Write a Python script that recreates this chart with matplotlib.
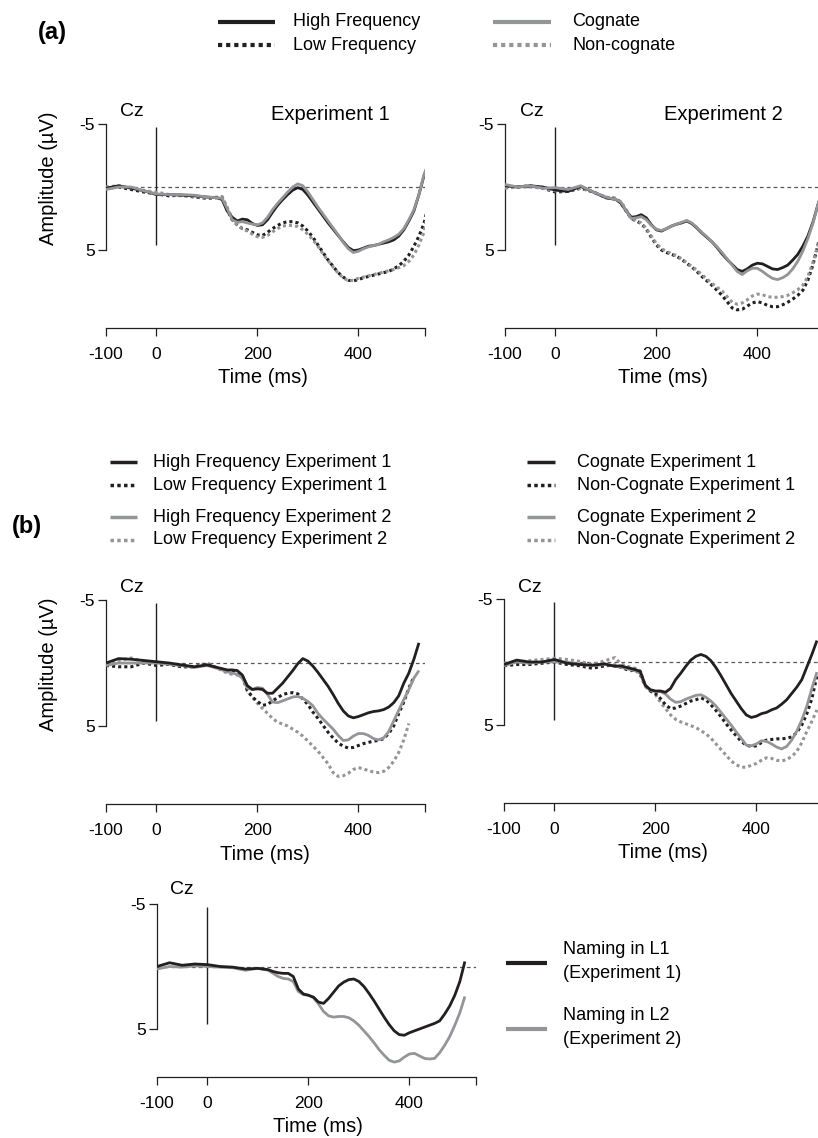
import matplotlib
matplotlib.use("Agg")
import matplotlib.pyplot as plt
from matplotlib.lines import Line2D

plt.rcParams['font.family'] = ['Liberation Sans', 'DejaVu Sans']

NA = float('nan')

# ---------------- data (µV, positive plotted downward) ----------------
T_A = [-100, -75, -50, -25, 0, 25, 50, 75, 100, 120, 130, 140, 150, 160, 170, 180, 190,
       200, 210, 220, 230, 240, 250, 260, 270, 280, 290, 300, 310, 320, 330, 340, 350,
       360, 370, 380, 390, 400, 410, 420, 430, 440, 450, 460, 470, 480, 490, 500, 510,
       520, 530, 540]
T_B = [-100, -75, -50, -25, 0, 25, 50, 75, 100, 120, 130, 140, 150, 160, 170, 180, 190,
       200, 210, 220, 230, 240, 250, 260, 270, 280, 290, 300, 310, 320, 330, 340, 350,
       360, 370, 380, 390, 400, 410, 420, 430, 440, 450, 460, 470, 480, 490, 500, 510,
       520]
T_C = [-100, -75, -50, -25, 0, 25, 50, 75, 100, 120, 130, 140, 150, 160, 170, 180, 190,
       200, 210, 220, 230, 240, 250, 260, 270, 280, 290, 300, 310, 320, 330, 340, 350,
       360, 370, 380, 390, 400, 410, 420, 430, 440, 450, 460, 470, 480, 490, 500, 510]

# (a) Experiment 1
a1_high = [0.1, -0.1, 0.1, 0.3, 0.6, 0.6, 0.65, 0.7, 0.8, 0.85,
           1.0, 1.9, 2.4, 2.7, 2.55, 2.6, 2.9, 3.05, 3.0, 2.6, 2.0, 1.45, 1.0, 0.6, 0.25,
           0.05, 0.2, 0.65, 1.2, 1.75, 2.3, 2.85, 3.35, 3.85, 4.35, 4.8, 5.05, 5.0, 4.85,
           4.7, 4.65, 4.55, 4.45, 4.35, 4.2, 3.9, 3.4, 2.7, 1.9, 0.6, -0.9, -1.9]
a1_cog = [0.2, 0.0, 0.0, 0.3, 0.55, 0.6, 0.6, 0.65, 0.8, 0.85,
          0.9, 1.7, 2.6, 2.8, 2.75, 2.85, 2.95, 3.0, 2.85, 2.4, 1.8, 1.3, 0.85, 0.4, 0.0,
          -0.25, -0.1, 0.4, 1.0, 1.6, 2.15, 2.7, 3.25, 3.8, 4.4, 4.9, 5.2, 5.1, 4.9, 4.75,
          4.65, 4.55, 4.35, 4.2, 4.0, 3.75, 3.3, 2.6, 1.8, 0.6, -1.0, -2.0]
a1_low = [0.1, 0.0, 0.2, 0.4, 0.55, 0.7, 0.65, 0.8, 0.9, 0.85,
          0.8, 1.8, 2.6, 3.0, 3.3, 3.4, 3.6, 3.8, 3.85, 3.6, 3.3, 3.05, 2.85, 2.75, 2.75,
          2.85, 3.1, 3.5, 4.0, 4.6, 5.2, 5.8, 6.3, 6.8, 7.15, 7.4, 7.45, 7.35, 7.2, 7.1,
          7.0, 6.9, 6.8, 6.7, 6.5, 6.25, 5.9, 5.4, 4.7, 3.9, 2.9, 1.2]
a1_noncog = [0.0, -0.1, 0.1, 0.3, 0.4, 0.6, 0.7, 0.75, 0.85, 0.8,
             0.75, 1.6, 2.5, 3.0, 3.3, 3.5, 3.75, 3.95, 4.0, 3.85, 3.55, 3.3, 3.1, 3.05,
             3.05, 3.15, 3.4, 3.75, 4.2, 4.7, 5.3, 5.85, 6.35, 6.85, 7.2, 7.45, 7.4, 7.25,
             7.15, 7.05, 6.95, 6.85, 6.75, 6.65, 6.55, 6.4, 6.25, 5.9, 5.4, 4.6, 3.6, 1.4]

# (a) Experiment 2
a2_high = [-0.1, 0.0, -0.1, 0.0, 0.25, 0.35, -0.05, 0.4, 0.85, 1.0,
           1.3, 1.9, 2.4, 2.35, 2.2, 2.45, 3.0, 3.4, 3.5, 3.3, 3.1, 2.95, 2.85, 2.7, 2.9,
           3.25, 3.65, 4.0, 4.35, 4.8, 5.3, 5.75, 6.15, 6.55, 6.7, 6.5, 6.2, 6.05, 6.1,
           6.3, 6.5, 6.55, 6.4, 6.2, 5.8, 5.35, 4.7, 3.9, 2.8, 1.4, 0.0, -1.4]
a2_cog = [-0.2, 0.0, -0.1, 0.1, 0.05, 0.2, -0.1, 0.4, 0.8, 1.0,
          1.2, 1.9, 2.5, 2.45, 2.35, 2.6, 3.05, 3.35, 3.45, 3.3, 3.1, 2.95, 2.8, 2.65,
          2.85, 3.2, 3.6, 3.95, 4.35, 4.75, 5.2, 5.7, 6.2, 6.7, 6.95, 6.65, 6.45, 6.45,
          6.7, 7.0, 7.25, 7.35, 7.2, 6.95, 6.5, 5.9, 5.1, 4.1, 2.9, 1.4, 0.0, -1.4]
a2_low = [0.0, 0.0, -0.1, 0.1, 0.4, 0.35, 0.1, 0.4, 0.85, 0.9,
          1.3, 1.9, 2.5, 2.7, 2.9, 3.35, 4.0, 4.6, 5.0, 5.2, 5.35, 5.5, 5.75, 6.05, 6.35,
          6.7, 7.1, 7.45, 7.8, 8.2, 8.6, 9.1, 9.6, 9.75, 9.7, 9.45, 9.2, 9.1, 9.2, 9.4,
          9.5, 9.5, 9.35, 9.15, 8.9, 8.6, 8.2, 7.4, 6.2, 4.6, 3.0, 1.5]
a2_noncog = [0.1, 0.0, 0.0, 0.1, 0.3, 0.3, 0.1, 0.4, 0.8, 0.9,
             1.2, 1.8, 2.45, 2.7, 2.85, 3.3, 3.9, 4.5, 4.9, 5.1, 5.3, 5.45, 5.7, 6.0, 6.3,
             6.6, 6.95, 7.3, 7.65, 7.95, 8.25, 8.7, 9.15, 9.3, 9.2, 8.95, 8.65, 8.5, 8.55,
             8.7, 8.75, 8.75, 8.7, 8.6, 8.4, 8.15, 7.8, 7.1, 6.0, 4.6, 3.0, 1.5]

# (b) frequency comparison across experiments
b1_high_e1 = [0.0, -0.35, -0.3, -0.2, -0.1, 0.0, 0.15, 0.3, 0.15, 0.35,
              0.45, 0.55, 0.55, 0.6, 0.95, 1.8, 2.1, 2.05, 2.1, 2.4, 2.4, 2.0, 1.6, 1.1,
              0.6, 0.05, -0.35, -0.15, 0.25, 0.75, 1.3, 1.85, 2.5, 3.2, 3.8, 4.2, 4.35,
              4.25, 4.1, 3.95, 3.85, 3.8, 3.7, 3.5, 3.15, 2.6, 1.6, 0.8, -0.3, -1.6]
b1_low_e1 = [0.2, 0.3, 0.3, 0.0, 0.2, 0.1, 0.3, 0.3, 0.1, 0.4,
             0.5, 0.6, 0.65, 0.8, 1.0, 2.2, 2.7, 3.05, 3.35, 3.3, 3.0, 2.75, 2.5, 2.4,
             2.35, 2.45, 2.85, 3.3, 3.9, 4.4, 4.95, 5.5, 5.95, 6.35, 6.6, 6.75, 6.7, 6.55,
             6.4, 6.3, 6.2, 6.15, 6.0, 5.6, 5.0, 4.0, 3.1, 2.0, 1.1, NA]
b1_high_e2 = [0.2, 0.0, 0.0, 0.0, 0.0, 0.1, 0.2, 0.35, 0.2, 0.4,
              0.55, 0.7, 0.8, 0.9, 1.2, 2.0, 2.1, 1.95, 2.0, 2.5, 3.1, 3.15, 3.0, 2.85,
              2.7, 2.65, 2.8, 3.05, 3.4, 4.0, 4.45, 4.85, 5.25, 5.75, 6.15, 6.1, 5.8, 5.6,
              5.6, 5.75, 6.0, 6.1, 5.95, 5.45, 4.6, 3.75, 2.9, 2.1, 1.2, 0.6]
b1_low_e2 = [0.1, -0.2, -0.4, -0.1, 0.0, 0.1, 0.3, 0.3, 0.0, 0.4,
             0.6, 0.8, 0.9, 0.95, 1.1, 2.1, 2.7, 3.2, 3.6, 4.0, 4.4, 4.7, 4.85, 5.0, 5.25,
             5.5, 5.8, 6.2, 6.6, 7.0, 7.5, 8.0, 8.7, 9.0, 8.95, 8.75, 8.45, 8.3, 8.4, 8.55,
             8.65, 8.7, 8.6, 8.3, 7.8, 7.1, 6.1, 4.8, NA, NA]

# (b) cognate comparison across experiments
b2_cog_e1 = [0.2, -0.15, 0.0, 0.0, -0.2, 0.1, 0.2, 0.25, 0.15, 0.35,
             0.3, 0.4, 0.5, 0.6, 0.75, 1.85, 2.2, 2.3, 2.3, 2.4, 2.1, 1.4, 0.9, 0.35,
             -0.15, -0.45, -0.6, -0.45, -0.1, 0.45, 1.1, 1.8, 2.5, 3.1, 3.7, 4.2, 4.4, 4.3,
             4.1, 4.0, 3.8, 3.65, 3.35, 3.0, 2.5, 2.0, 1.4, 0.4, -0.6, -1.7]
b2_noncog_e1 = [0.3, 0.2, 0.2, 0.1, 0.0, 0.2, 0.3, 0.5, 0.3, 0.25,
                0.4, 0.55, 0.7, 0.6, 1.0, 1.9, 2.3, 2.5, 2.9, 3.4, 3.7, 3.65, 3.5, 3.3,
                3.1, 3.0, 2.85, 3.0, 3.4, 3.85, 4.35, 4.9, 5.4, 5.85, 6.3, 6.6, 6.7, 6.65,
                6.4, 6.2, 6.15, 6.1, 6.1, 6.05, 5.95, 5.6, 5.0, 4.1, 2.9, 1.1]
b2_cog_e2 = [0.3, 0.0, 0.1, 0.0, 0.0, 0.0, 0.2, 0.3, 0.2, 0.3,
             0.4, 0.5, 0.6, 0.7, 0.9, 1.9, 2.25, 2.35, 2.35, 2.55, 2.95, 3.2, 3.15, 2.95,
             2.8, 2.65, 2.6, 2.8, 3.1, 3.5, 4.0, 4.5, 5.0, 5.55, 6.05, 6.6, 6.65, 6.5,
             6.25, 6.3, 6.5, 6.75, 6.9, 6.7, 6.2, 5.5, 4.6, 3.5, 2.1, 0.8]
b2_noncog_e2 = [0.1, 0.0, -0.1, -0.2, -0.3, -0.2, -0.05, 0.2, -0.1, -0.35,
                0.1, 0.3, 0.4, 0.5, 0.7, 1.9, 2.3, 2.6, 3.2, 3.7, 4.2, 4.55, 4.75, 4.9,
                5.05, 5.2, 5.45, 5.7, 6.05, 6.5, 6.95, 7.4, 7.85, 8.15, 8.35, 8.35, 8.2,
                8.05, 7.8, 7.6, 7.65, 7.8, 7.85, 7.75, 7.5, 7.1, 6.4, 5.5, 4.7, 3.8]

# naming in L1 vs L2
c_l1 = [0.0, -0.3, -0.1, -0.2, -0.15, 0.0, 0.05, 0.2, 0.15, 0.25,
        0.4, 0.5, 0.55, 0.55, 0.8, 1.8, 2.2, 2.3, 2.45, 2.85, 2.95, 2.55, 2.05, 1.55, 1.25,
        1.05, 1.0, 1.2, 1.6, 2.15, 2.75, 3.4, 4.05, 4.65, 5.15, 5.45, 5.5, 5.3, 5.15, 5.0,
        4.85, 4.7, 4.55, 4.35, 3.8, 3.15, 2.3, 1.2, -0.4]
c_l2 = [0.2, 0.0, 0.05, -0.05, 0.0, 0.05, 0.1, 0.3, 0.15, 0.3,
        0.55, 0.8, 0.95, 1.0, 1.2, 2.0, 2.25, 2.3, 2.5, 3.0, 3.6, 3.95, 4.05, 4.0, 4.0, 4.1,
        4.35, 4.7, 5.15, 5.6, 6.1, 6.65, 7.1, 7.5, 7.65, 7.55, 7.25, 7.0, 6.95, 7.15, 7.35,
        7.4, 7.35, 6.9, 6.3, 5.6, 4.7, 3.7, 2.4]

x_ticks = [-100, 0, 200, 400]
x_tick_labels = ['-100', '0', '200', '400']
y_ticks = [-5, 5]
y_tick_labels = ['-5', '5']

# ---------------- styling ----------------
W, H = 818, 1138
BLACK = '#231f20'
GRAY = '#939598'
SOLID = dict(lw=2.0, solid_capstyle='butt')
DOT = dict(lw=2.2, linestyle=(0, (1, 1)), dash_capstyle='butt')

fig = plt.figure(figsize=(W / 100, H / 100), dpi=100)


def fx(px):
    return px / W


def fy(py):
    return 1 - py / H


XMIN, XMAX = -100, 532
PX_PER_MS = 319 / (XMAX - XMIN)


def make_axes(left_px, y_m5, y_p5, y_axis):
    s = (y_p5 - y_m5) / 10.0
    ybot = 5 + (y_axis - y_p5) / s
    ytop = -5.3
    top_px = y_m5 - 0.3 * s
    width_px = (XMAX - XMIN) * PX_PER_MS
    ax = fig.add_axes([fx(left_px), fy(y_axis), width_px / W, (y_axis - top_px) / H])
    ax.set_xlim(XMIN, XMAX)
    ax.set_ylim(ybot, ytop)
    ax.patch.set_alpha(0)
    for sp in ['top', 'right']:
        ax.spines[sp].set_visible(False)
    for sp in ['left', 'bottom']:
        ax.spines[sp].set_color(BLACK)
        ax.spines[sp].set_linewidth(0.9)
    ax.spines['left'].set_bounds(-5, 5)
    ax.set_xticks(x_ticks + [XMAX], x_tick_labels + [''])
    ax.set_yticks(y_ticks, y_tick_labels)
    ax.tick_params(axis='both', direction='out', length=6, width=0.9, color=BLACK,
                   labelsize=12.5, labelcolor='black')
    ax.tick_params(axis='x', pad=8)
    ax.tick_params(axis='y', pad=2)
    ax.axhline(0, color='#58595b', lw=0.9, linestyle=(0, (3, 2.5)), zorder=1)
    ax.vlines(0, -4.8, 4.6, color=BLACK, lw=1.0, zorder=2)
    return ax


# ---- (a) ----
axA1 = make_axes(106, 124, 250, 328)
axA1.plot(T_A, a1_high, color=BLACK, **SOLID, zorder=4)
axA1.plot(T_A, a1_low, color=BLACK, **DOT, zorder=3)
axA1.plot(T_A, a1_cog, color=GRAY, **SOLID, zorder=5)
axA1.plot(T_A, a1_noncog, color=GRAY, **DOT, zorder=3)

axA2 = make_axes(505, 124, 250, 328)
axA2.plot(T_A, a2_high, color=BLACK, **SOLID, zorder=4)
axA2.plot(T_A, a2_low, color=BLACK, **DOT, zorder=3)
axA2.plot(T_A, a2_cog, color=GRAY, **SOLID, zorder=5)
axA2.plot(T_A, a2_noncog, color=GRAY, **DOT, zorder=3)

# ---- (b) ----
axB1 = make_axes(106, 600, 726, 804)
axB1.plot(T_B, b1_low_e2, color=GRAY, **DOT, zorder=3)
axB1.plot(T_B, b1_low_e1, color=BLACK, **DOT, zorder=3)
axB1.plot(T_B, b1_high_e2, color=GRAY, **SOLID, zorder=4)
axB1.plot(T_B, b1_high_e1, color=BLACK, **SOLID, zorder=5)

axB2 = make_axes(504, 599, 725, 803)
axB2.plot(T_B, b2_noncog_e2, color=GRAY, **DOT, zorder=3)
axB2.plot(T_B, b2_noncog_e1, color=BLACK, **DOT, zorder=3)
axB2.plot(T_B, b2_cog_e2, color=GRAY, **SOLID, zorder=4)
axB2.plot(T_B, b2_cog_e1, color=BLACK, **SOLID, zorder=5)

# ---- L1 vs L2 ----
axC = make_axes(157, 904, 1029, 1077)
axC.plot(T_C, c_l2, color=GRAY, **SOLID, zorder=4)
axC.plot(T_C, c_l1, color=BLACK, **SOLID, zorder=5)

# ---- axis texts ----
TXT = 14.5
for cx, cy in [(132, 112), (532, 112), (132, 587), (530, 587), (182, 890)]:
    fig.text(fx(cx), fy(cy), 'Cz', ha='center', va='center', fontsize=14)
fig.text(fx(330), fy(114), 'Experiment 1', ha='center', va='center', fontsize=14.5)
fig.text(fx(723), fy(114), 'Experiment 2', ha='center', va='center', fontsize=14.5)
for cx, cy in [(263, 378), (663, 378), (265, 854), (663, 853), (318, 1127)]:
    fig.text(fx(cx), fy(cy), 'Time (ms)', ha='center', va='center', fontsize=TXT)
for cy in [178, 664]:
    fig.text(fx(48), fy(cy), 'Amplitude (µV)', ha='center', va='center', rotation=90,
             fontsize=TXT)

fig.text(fx(52), fy(32), '(a)', ha='center', va='center', fontsize=17, fontweight='bold')
fig.text(fx(27), fy(527), '(b)', ha='center', va='center', fontsize=17, fontweight='bold')


# ---- legends ----
def leg_line(x0, x1, y, color, lw, dotted):
    kw = dict(color=color, lw=lw, transform=fig.transFigure, solid_capstyle='butt',
              dash_capstyle='butt')
    if dotted:
        kw['linestyle'] = (0, (1, 0.95))
    fig.add_artist(Line2D([fx(x0), fx(x1)], [fy(y), fy(y)], **kw))


def leg_text(x, y, s, size=13):
    fig.text(fx(x), fy(y), s, ha='left', va='center', fontsize=size)


legend_a = [("High Frequency", BLACK, False, 218, 275, 293, 22),
            ("Low Frequency", BLACK, True, 218, 275, 293, 45),
            ("Cognate", GRAY, False, 493, 551, 572, 22),
            ("Non-cognate", GRAY, True, 493, 551, 572, 45)]
for s, c, d, x0, x1, xt, y in legend_a:
    leg_line(x0, x1, y, c, 3.0, d)
    leg_text(xt, y, s)

legend_b = [("High Frequency Experiment 1", BLACK, False, 110, 137, 153, 462),
            ("Low Frequency Experiment 1", BLACK, True, 110, 137, 153, 485),
            ("High Frequency Experiment 2", GRAY, False, 110, 137, 153, 517),
            ("Low Frequency Experiment 2", GRAY, True, 110, 137, 153, 540),
            ("Cognate Experiment 1", BLACK, False, 527, 555, 577, 462),
            ("Non-Cognate Experiment 1", BLACK, True, 527, 555, 577, 485),
            ("Cognate Experiment 2", GRAY, False, 527, 555, 577, 517),
            ("Non-Cognate Experiment 2", GRAY, True, 527, 555, 577, 540)]
for s, c, d, x0, x1, xt, y in legend_b:
    leg_line(x0, x1, y, c, 2.5, d)
    leg_text(xt, y, s)

leg_line(506, 547, 963, BLACK, 3.0, False)
leg_line(506, 547, 1029, GRAY, 3.0, False)
leg_text(563, 950, "Naming in L1")
leg_text(563, 973, "(Experiment 1)")
leg_text(563, 1016, "Naming in L2")
leg_text(563, 1039, "(Experiment 2)")

fig.savefig('out.png', dpi=100)
